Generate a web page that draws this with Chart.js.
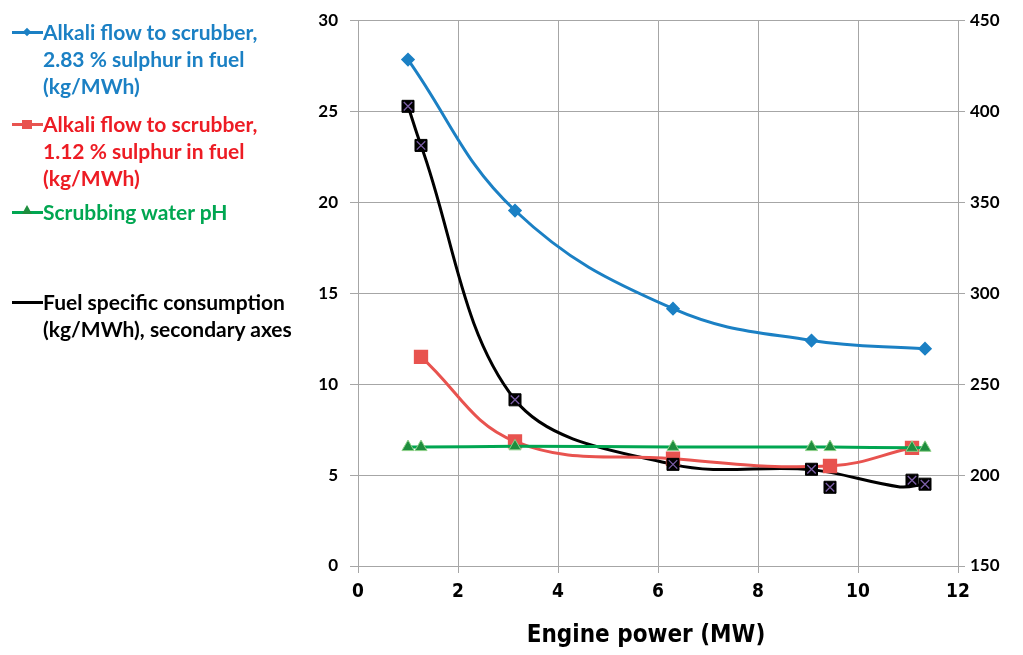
<!DOCTYPE html>
<html>
<head>
<meta charset="utf-8">
<script src="https://cdn.jsdelivr.net/npm/chart.js@4"></script>
<style>
  body { margin: 0; background: #fff; }
  #wrap { position: relative; width: 1023px; height: 655px; }
  canvas { position: absolute; left: 0; top: 0; }
  .leg { position: absolute; left: 43px; font: bold 21px Lato, sans-serif; line-height: 27px; white-space: nowrap; }
  .sym { position: absolute; left: 12px; width: 31px; height: 3px; }
  .mk { position: absolute; }
  #xtitle { position: absolute; left: 446px; width: 400px; top: 619px; text-align: center;
            font: bold 24px 'Liberation Sans Narrow', 'DejaVu Sans Condensed', sans-serif; color: #000; line-height: 30px; }
</style>
</head>
<body>
<div id="wrap">
  <canvas id="chart" width="1023" height="655"></canvas>
  <div id="xtitle">Engine power (MW)</div>
</div>
<script>
// Values
const powerBlue = [1.0, 3.14, 6.3, 9.07, 11.34];
const alkali283 = [27.85, 19.55, 14.15, 12.4, 11.95];

const powerRed = [1.26, 3.14, 6.3, 9.44, 11.08];
const alkali112 = [11.5, 6.85, 5.9, 5.5, 6.5];

const powerAll = [1.0, 1.26, 3.14, 6.3, 9.07, 9.44, 11.08, 11.34];
const waterPh = [6.54, 6.54, 6.58, 6.55, 6.54, 6.54, 6.5, 6.5];
const fuelSpecific = [402.8, 381.3, 241.4, 205.9, 203.2, 193.3, 197.2, 195.0];

// smoothed fuel consumption curve (drawn without markers)
const fuelCurvePower = [1.0, 1.26, 3.14, 6.3, 9.07, 10.84, 11.34];
const fuelCurve = [403, 381.3, 241.4, 205.9, 203.0, 193.5, 195.0];

const legendItems = [
  { lines: ['Alkali flow to scrubber,', '2.83 % sulphur in fuel', '(kg/MWh)'], color: '#1b80c4', line: '#1b80c4', top: 18, marker: 'diamond' },
  { lines: ['Alkali flow to scrubber,', '1.12 % sulphur in fuel', '(kg/MWh)'], color: '#ed1c24', line: '#e8534f', top: 110, marker: 'square' },
  { lines: ['Scrubbing water pH'], color: '#00a651', line: '#00a651', top: 198, marker: 'triangle' },
  { lines: ['Fuel specific consumption', '(kg/MWh), secondary axes'], color: '#000', line: '#000', top: 288, marker: null }
];

const toXY = (xs, ys) => xs.map((x, i) => ({ x: x, y: ys[i] }));

// html legend
const wrap = document.getElementById('wrap');
legendItems.forEach(item => {
  const t = document.createElement('div');
  t.className = 'leg';
  t.style.top = item.top + 'px';
  t.style.color = item.color;
  t.innerHTML = item.lines.join('<br>');
  wrap.appendChild(t);
  const s = document.createElement('div');
  s.className = 'sym';
  s.style.top = (item.top + 13) + 'px';
  s.style.background = item.line;
  wrap.appendChild(s);
  if (item.marker) {
    const m = document.createElement('div');
    m.className = 'mk';
    if (item.marker === 'diamond') {
      m.style.cssText += 'left:24px;width:6px;height:6px;background:' + item.line + ';transform:rotate(45deg);top:' + (item.top + 11) + 'px';
    } else if (item.marker === 'square') {
      m.style.cssText += 'left:22px;width:10px;height:9px;background:' + item.line + ';top:' + (item.top + 10) + 'px';
    } else {
      m.style.cssText += 'left:22px;width:0;height:0;border-left:5px solid transparent;border-right:5px solid transparent;border-bottom:9px solid #1e8e3e;top:' + (item.top + 7) + 'px';
    }
    wrap.appendChild(m);
  }
});

const gridColor = '#a6a6a6';
const tickFont = { family: 'Lato, sans-serif', weight: 'bold', size: 17, lineHeight: 1 };
const narrowFont = "'Liberation Sans Narrow', 'DejaVu Sans Condensed', sans-serif";

new Chart(document.getElementById('chart'), {
  type: 'line',
  data: {
    datasets: [
      {
        label: 'Fuel specific consumption (kg/MWh), secondary axes',
        data: toXY(fuelCurvePower, fuelCurve),
        yAxisID: 'y2',
        borderColor: '#000',
        borderWidth: 3,
        pointRadius: 0,
        tension: 0.35,
        order: 6
      },
      {
        label: 'Alkali flow to scrubber, 1.12 % sulphur in fuel (kg/MWh)',
        data: toXY(powerRed, alkali112),
        yAxisID: 'y',
        borderColor: '#e8534f',
        backgroundColor: '#e8534f',
        borderWidth: 3,
        pointStyle: 'rect',
        pointRadius: 8,
        tension: 0.4,
        order: 5
      },
      {
        label: 'Scrubbing water pH',
        data: toXY(powerAll, waterPh),
        yAxisID: 'y',
        borderColor: '#00a651',
        backgroundColor: '#1e8e3e',
        pointBorderColor: '#8fd18a',
        pointBorderWidth: 1,
        borderWidth: 3,
        pointStyle: 'triangle',
        pointRadius: 7,
        tension: 0.4,
        order: 4
      },
      {
        label: 'Alkali flow to scrubber, 2.83 % sulphur in fuel (kg/MWh)',
        data: toXY(powerBlue, alkali283),
        yAxisID: 'y',
        borderColor: '#1b80c4',
        backgroundColor: '#1b80c4',
        borderWidth: 3,
        pointStyle: 'rectRot',
        pointRadius: 5,
        tension: 0.4,
        order: 3
      },
      {
        label: 'Fuel measurements',
        data: toXY(powerAll, fuelSpecific),
        yAxisID: 'y2',
        showLine: false,
        backgroundColor: '#000',
        borderColor: '#000',
        pointStyle: 'rect',
        pointRadius: 8.5,
        order: 2
      },
      {
        label: 'Fuel measurements cross',
        data: toXY(powerAll, fuelSpecific),
        yAxisID: 'y2',
        showLine: false,
        borderColor: '#7b5ea7',
        backgroundColor: '#7b5ea7',
        pointStyle: 'crossRot',
        pointRadius: 6,
        pointBorderWidth: 1.3,
        order: 1
      }
    ]
  },
  options: {
    responsive: false,
    animation: false,
    layout: { padding: { left: 300, top: 19, right: 0, bottom: 0 } },
    plugins: {
      legend: { display: false },
      tooltip: { enabled: false }
    },
    scales: {
      x: {
        type: 'linear',
        min: 0,
        max: 12,
        ticks: { stepSize: 2, color: '#000', padding: 8, font: { family: narrowFont, weight: 'bold', size: 19 } },
        grid: { color: gridColor, tickLength: 7 },
        border: { color: gridColor },
        afterFit: s => { s.height = 89; }
      },
      y: {
        position: 'left',
        min: 0,
        max: 30,
        ticks: { stepSize: 5, color: '#000', padding: 12, font: tickFont },
        grid: { color: gridColor, tickLength: 8 },
        border: { color: gridColor },
        afterFit: s => { s.width = 58; }
      },
      y2: {
        position: 'right',
        min: 150,
        max: 450,
        ticks: { stepSize: 50, color: '#000', padding: 5, font: tickFont },
        grid: { drawOnChartArea: false, color: gridColor, tickLength: 7 },
        border: { color: gridColor },
        afterFit: s => { s.width = 65; }
      }
    }
  }
});
</script>
</body>
</html>
